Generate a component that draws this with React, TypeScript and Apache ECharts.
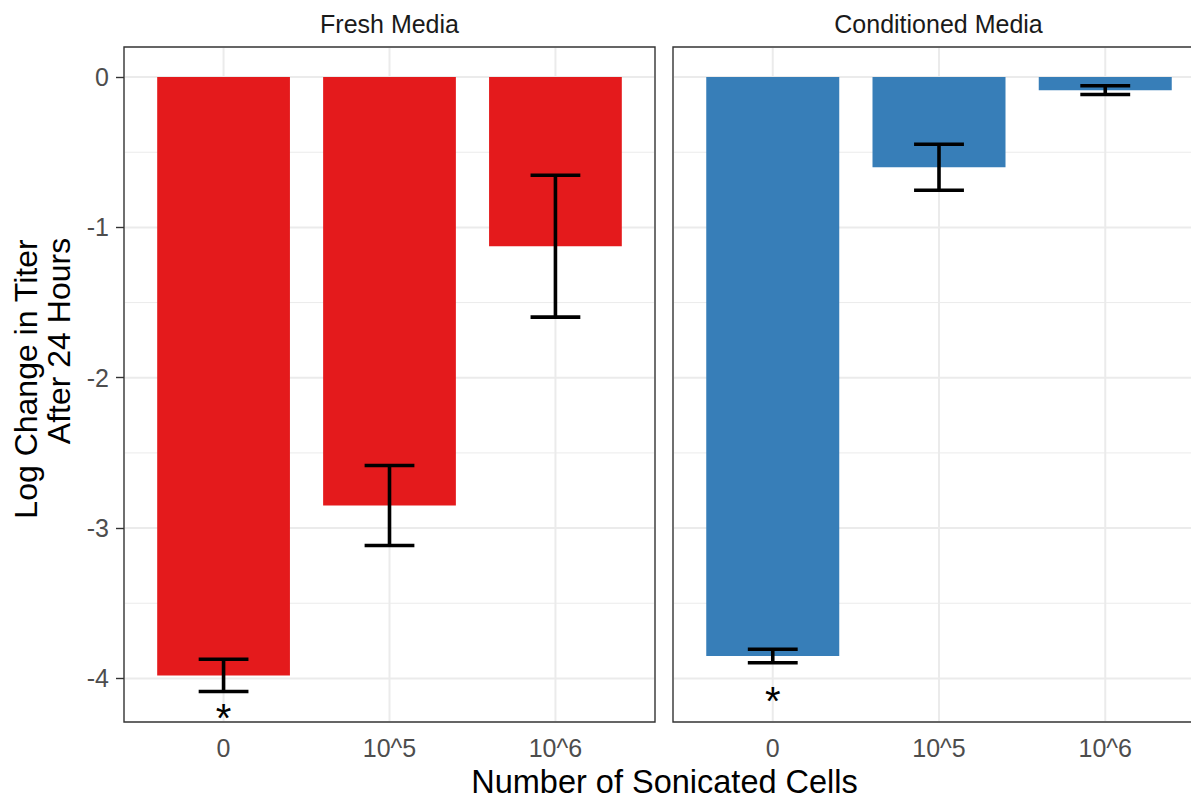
import React, { useEffect, useRef } from "react";
import * as echarts from "echarts";

// ---- data ----
const categories = ["0", "10^5", "10^6"];
const panels = ["Fresh Media", "Conditioned Media"];
const freshMeans = [-3.98, -2.85, -1.125];
const freshSE = [0.107, 0.266, 0.472];
const condMeans = [-3.851, -0.6, -0.087];
const condSE = [0.045, 0.153, 0.029];
// significance marks ("*") under the bars: [category position, y]
const freshStars = [[1, -4.21]];
const condStars = [[1, -4.1]];
const yTicks = [0, -1, -2, -3, -4];
const yMinor = [-0.5, -1.5, -2.5, -3.5];
const xTicks = [1, 2, 3];

const Y_MIN = -4.29;
const Y_MAX = 0.2;
const X_MIN = 0.4;
const X_MAX = 3.6;
const BAR_HALF = 0.4;
const ERR_HALF = 0.15;
const FONT = "'Liberation Sans', Arial, sans-serif";
const RED = "#E41A1C";
const BLUE = "#377EB8";

function gridLineSeries(gi: number) {
  const hData = yTicks.map((v) => [v, 2]).concat(yMinor.map((v) => [v, 1]));
  return [
    {
      type: "custom",
      xAxisIndex: gi,
      yAxisIndex: gi,
      z: 0,
      silent: true,
      data: hData.map((d) => [X_MIN, d[0], d[1]]),
      renderItem: (params: any, api: any) => {
        const v = api.value(1);
        const w = api.value(2);
        const cs = params.coordSys;
        const y = api.coord([X_MIN, v])[1];
        return {
          type: "line",
          shape: { x1: cs.x + 1, y1: y, x2: cs.x + cs.width - 1, y2: y },
          style: { stroke: "#EBEBEB", lineWidth: w },
        };
      },
    },
    {
      type: "custom",
      xAxisIndex: gi,
      yAxisIndex: gi,
      z: 0,
      silent: true,
      data: xTicks.map((x) => [x, 0]),
      renderItem: (params: any, api: any) => {
        const x = api.coord([api.value(0), 0])[0];
        const cs = params.coordSys;
        return {
          type: "line",
          shape: { x1: x, y1: cs.y + 1, x2: x, y2: cs.y + cs.height - 1 },
          style: { stroke: "#EBEBEB", lineWidth: 2 },
        };
      },
    },
  ];
}

function barSeries(gi: number, means: number[], se: number[], color: string) {
  return {
    type: "custom",
    xAxisIndex: gi,
    yAxisIndex: gi,
    z: 2,
    data: means.map((m, i) => [i + 1, m, se[i]]),
    renderItem: (params: any, api: any) => {
      const x = api.value(0);
      const m = api.value(1);
      const s = api.value(2);
      const p0 = api.coord([x - BAR_HALF, 0]);
      const p1 = api.coord([x + BAR_HALF, m]);
      const cx = api.coord([x, m])[0];
      const top = api.coord([x, m + s])[1];
      const bot = api.coord([x, m - s])[1];
      const cl = api.coord([x - ERR_HALF, m])[0];
      const cr = api.coord([x + ERR_HALF, m])[0];
      const es = { stroke: "#000000", lineWidth: 3.6 };
      return {
        type: "group",
        children: [
          {
            type: "rect",
            shape: { x: p0[0], y: p0[1], width: p1[0] - p0[0], height: p1[1] - p0[1] },
            style: { fill: color },
          },
          { type: "line", shape: { x1: cx, y1: top, x2: cx, y2: bot }, style: es },
          { type: "line", shape: { x1: cl, y1: top, x2: cr, y2: top }, style: es },
          { type: "line", shape: { x1: cl, y1: bot, x2: cr, y2: bot }, style: es },
        ],
      };
    },
  };
}

function starSeries(gi: number, stars: number[][]) {
  return {
    type: "custom",
    xAxisIndex: gi,
    yAxisIndex: gi,
    z: 3,
    data: stars,
    renderItem: (params: any, api: any) => {
      const p = api.coord([api.value(0), api.value(1)]);
      return {
        type: "text",
        style: {
          text: "*",
          x: p[0],
          y: p[1] + 8,
          align: "center",
          verticalAlign: "middle",
          fontSize: 40,
          lineHeight: 20,
          fontFamily: FONT,
          fill: "#000000",
        },
      };
    },
  };
}

export default function App() {
  const ref = useRef<HTMLDivElement>(null);
  useEffect(() => {
    if (!ref.current) return;
    const chart = echarts.init(ref.current, undefined, { renderer: "svg" });
    const grids = [
      { left: 124, top: 47, width: 531, height: 675 },
      { left: 673, top: 47, width: 532, height: 675 },
    ];
    const xAxis = grids.map((_, gi) => ({
      type: "value",
      gridIndex: gi,
      min: X_MIN,
      max: X_MAX,
      splitLine: { show: false },
      axisLine: { show: false },
      axisTick: {
        show: true,
        customValues: xTicks,
        length: 8,
        lineStyle: { color: "#333333", width: 1.4 },
      },
      axisLabel: {
        customValues: xTicks,
        formatter: (v: number) => categories[Math.round(v) - 1],
        fontSize: 25,
        color: "#4D4D4D",
        fontFamily: FONT,
        margin: 13,
      },
    }));
    const yAxis = grids.map((_, gi) => ({
      type: "value",
      gridIndex: gi,
      min: Y_MIN,
      max: Y_MAX,
      splitLine: { show: false },
      axisLine: { show: false },
      axisTick: {
        show: gi === 0,
        customValues: yTicks,
        length: 8,
        lineStyle: { color: "#333333", width: 1.4 },
      },
      axisLabel: {
        show: gi === 0,
        customValues: yTicks,
        formatter: (v: number) => String(Math.round(v)),
        fontSize: 25,
        color: "#4D4D4D",
        fontFamily: FONT,
        margin: 15,
      },
    }));
    const titleStyle = {
      align: "center",
      verticalAlign: "middle",
      fontSize: 32,
      fontFamily: FONT,
      fill: "#000000",
    };
    chart.setOption({
      animation: false,
      backgroundColor: "#FFFFFF",
      textStyle: { fontFamily: FONT },
      grid: grids.map((g) => ({
        ...g,
        show: true,
        borderColor: "#333333",
        borderWidth: 1.4,
        backgroundColor: "transparent",
      })),
      xAxis,
      yAxis,
      series: [
        ...gridLineSeries(0),
        ...gridLineSeries(1),
        barSeries(0, freshMeans, freshSE, RED),
        barSeries(1, condMeans, condSE, BLUE),
        starSeries(0, freshStars),
        starSeries(1, condStars),
      ],
      graphic: [
        {
          type: "text",
          x: 389.5,
          y: 24,
          style: {
            text: panels[0],
            align: "center",
            verticalAlign: "middle",
            fontSize: 25,
            fontFamily: FONT,
            fill: "#1A1A1A",
          },
        },
        {
          type: "text",
          x: 938.5,
          y: 24,
          style: {
            text: panels[1],
            align: "center",
            verticalAlign: "middle",
            fontSize: 25,
            fontFamily: FONT,
            fill: "#1A1A1A",
          },
        },
        {
          type: "text",
          x: 664.5,
          y: 782,
          style: { ...titleStyle, fontSize: 32.5, text: "Number of Sonicated Cells", lineHeight: 30 },
        },
        {
          type: "text",
          x: 26,
          y: 379,
          rotation: Math.PI / 2,
          style: { ...titleStyle, text: "Log Change in Titer" },
        },
        {
          type: "text",
          x: 59,
          y: 341,
          rotation: Math.PI / 2,
          style: { ...titleStyle, text: "After 24 Hours" },
        },
      ],
    });
    return () => chart.dispose();
  }, []);
  return (
    <div
      style={{
        position: "absolute",
        left: 0,
        top: 0,
        width: 1191,
        height: 798,
        overflow: "hidden",
      }}
    >
      <div ref={ref} style={{ width: 1215, height: 798 }} />
    </div>
  );
}
